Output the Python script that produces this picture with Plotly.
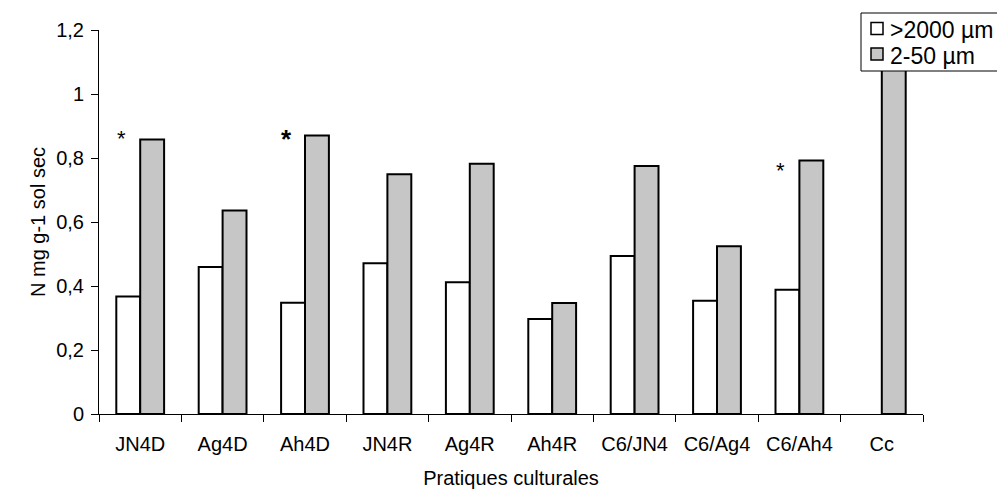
import plotly.graph_objects as go

categories = ["JN4D", "Ag4D", "Ah4D", "JN4R", "Ag4R", "Ah4R", "C6/JN4", "C6/Ag4", "C6/Ah4", "Cc"]
coarse = [0.367, 0.459, 0.348, 0.471, 0.412, 0.297, 0.494, 0.354, 0.388, None]   # >2000 µm
fine = [0.858, 0.636, 0.870, 0.749, 0.782, 0.347, 0.775, 0.524, 0.792, 1.17]     # 2-50 µm
series_names = [">2000 µm", "2-50 µm"]
series_colors = ["white", "#c6c6c6"]
y_ticks = [0, 0.2, 0.4, 0.6, 0.8, 1.0, 1.2]
y_tick_labels = ["0", "0,2", "0,4", "0,6", "0,8", "1", "1,2"]
star_cats = ["JN4D", "Ah4D", "C6/Ah4"]
star_levels = [0.862, 0.860, 0.762]
star_bold = [False, True, False]

FONT = "Liberation Sans, Arial, sans-serif"

# figure geometry (the page adds an 8px body margin)
W, H = 997, 481
ML, MR, MT, MB = 91, 82, 22, 75
OFF = 8
PW, PH = W - ML - MR, H - MT - MB


def px(x):  # page pixel x -> paper x
    return (x - OFF - ML) / PW


def py(y):  # page pixel y -> paper y
    return (H - MB - (y - OFF)) / PH


fig = go.Figure()
for name, vals, col in zip(series_names, [coarse, fine], series_colors):
    fig.add_trace(go.Bar(
        x=categories, y=vals, name=name, showlegend=False,
        marker=dict(color=col, line=dict(color="black", width=2)),
    ))

for c, lv, b in zip(star_cats, star_levels, star_bold):
    fig.add_annotation(
        x=c, y=lv, xref="x", yref="y", text="<b>*</b>" if b else "*",
        showarrow=False, xshift=-19, yanchor="middle",
        font=dict(family=FONT, size=26 if b else 22, color="black"),
    )

# legend box drawn in the style of the original (tight spacing)
fig.add_shape(type="rect", xref="paper", yref="paper", layer="above",
              x0=px(861), x1=px(1030), y0=py(13), y1=py(71),
              fillcolor="white", line=dict(color="black", width=1))
leg_rows = [28.5, 54]
for name, col, yc in zip(series_names, series_colors, leg_rows):
    fig.add_shape(type="rect", xref="paper", yref="paper", layer="above",
                  x0=px(871), x1=px(883), y0=py(yc - 6), y1=py(yc + 6),
                  fillcolor=col, line=dict(color="black", width=1.5))
    fig.add_annotation(x=px(888), y=py(yc + 1.5), xref="paper", yref="paper",
                       text=name, showarrow=False, xanchor="left", yanchor="middle",
                       font=dict(family=FONT, size=23, color="black"))

fig.update_layout(
    width=W, height=H,
    margin=dict(l=ML, r=MR, t=MT, b=MB, autoexpand=False),
    paper_bgcolor="white", plot_bgcolor="white",
    barmode="group", bargap=0.42, bargroupgap=0,
    font=dict(family=FONT, size=20, color="black"),
    showlegend=False,
    xaxis=dict(
        type="category", showline=True, linecolor="black", linewidth=1,
        ticks="outside", tickson="boundaries", ticklen=7, tickcolor="black",
        showgrid=False, zeroline=False, automargin=False,
        tickfont=dict(family=FONT, size=20), ticklabelstandoff=12,
        title=dict(text="Pratiques culturales", font=dict(family=FONT, size=20), standoff=17),
    ),
    yaxis=dict(
        range=[0, 1.2], tickvals=y_ticks, ticktext=y_tick_labels,
        showline=True, linecolor="black", linewidth=1,
        ticks="outside", ticklen=7, tickcolor="black",
        showgrid=False, zeroline=False, automargin=False,
        tickfont=dict(family=FONT, size=20), ticklabelstandoff=3,
        title=dict(text="N mg g-1 sol sec", font=dict(family=FONT, size=20), standoff=5),
    ),
)

fig.write_html("out.html")
